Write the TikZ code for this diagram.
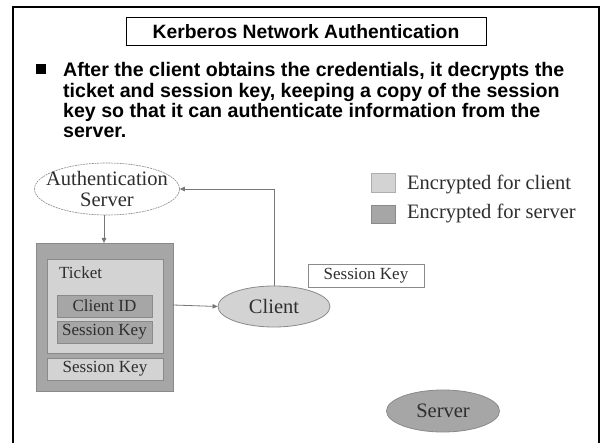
\documentclass[tikz,border=0pt]{standalone}
\usepackage{fontspec}
\setmainfont{Liberation Serif}
\newfontfamily\hv{Liberation Sans}
\usetikzlibrary{arrows.meta,shapes.geometric}
\definecolor{lightfill}{HTML}{D3D3D3}
\definecolor{darkfill}{HTML}{A6A6A6}
\definecolor{edgegray}{HTML}{8A8A8A}
\definecolor{linegray}{HTML}{777777}
\definecolor{textgray}{HTML}{2E2E2E}
\begin{document}
\begin{tikzpicture}[x=1pt,y=-1pt,
  boxlabel/.style={inner sep=0pt,text=textgray,font=\fontsize{17}{17}\selectfont},
  bigtext/.style={text=textgray,font=\fontsize{20.5}{20.5}\selectfont},
  bulletline/.style={anchor=base west,inner sep=0pt,font=\hv\bfseries\fontsize{19.6}{20}\selectfont},
  conn/.style={draw=linegray,line width=0.8pt},
  tip/.style={-{Triangle[length=5pt,width=4.5pt]}}]
\useasboundingbox (0,0) rectangle (605,443);
\fill[white] (0,0) rectangle (605,443);

% slide frame, open at the bottom
\draw[line width=2.4pt,line cap=butt] (13,443) -- (13,7.2) -- (599,7.2) -- (599,443);

% title
\node[draw,line width=1pt,minimum width=360pt,minimum height=28pt,inner sep=0pt,
      font=\hv\bfseries\fontsize{19.3}{19.3}\selectfont] (title) at (306,32) {Kerberos Network Authentication};

% bullet point
\fill (36,64) rectangle (46,74);
\node[bulletline] (l1) at (63,77) {After the client obtains the credentials, it decrypts the};
\node[bulletline] (l2) at (63,97.5) {ticket and session key, keeping a copy of the session};
\node[bulletline] (l3) at (63,117.5) {key so that it can authenticate information from the};
\node[bulletline] (l4) at (63,137.5) {server.};

% authentication server
\node[ellipse,draw=edgegray,dashed,dash pattern=on 2pt off 0.8pt,line width=0.6pt,fill=white,
      minimum width=145pt,minimum height=52pt,inner sep=0pt] (as) at (107,189) {};
\node[bigtext,align=center,inner sep=0pt] (astext) at (107,189)
  {\fontsize{20.5}{21}\selectfont Authentication\\Server};

% credentials package
\filldraw[fill=darkfill,draw=edgegray,line width=0.8pt] (36,243) rectangle (173,391);
\coordinate (pkgtop) at (104,243);
\coordinate (pkgright) at (173,305);
\filldraw[fill=lightfill,draw=edgegray,line width=0.8pt] (47,259) rectangle (163,353);
\node[boxlabel,anchor=west] (ticket) at (59,273) {Ticket};
\node[draw=edgegray,line width=0.8pt,fill=darkfill,minimum width=95pt,minimum height=22pt,
      boxlabel] (cid) at (104.5,306) {Client ID};
\node[draw=edgegray,line width=0.8pt,fill=darkfill,minimum width=95pt,minimum height=22pt,
      boxlabel] (tsk) at (104.5,332) {Session Key};
\node[draw=edgegray,line width=0.8pt,fill=lightfill,minimum width=116pt,minimum height=22pt,
      boxlabel] (psk) at (105,369) {Session Key};

% session key kept by the client
\node[draw=edgegray,line width=0.8pt,fill=white,minimum width=116pt,minimum height=23pt,
      boxlabel] (csk) at (366,275.5) {Session Key};

% client and server
\node[ellipse,draw=edgegray,line width=0.8pt,fill=lightfill,minimum width=112pt,minimum height=41pt,
      inner sep=0pt,bigtext] (client) at (274,306.5) {Client};
\node[ellipse,draw=edgegray,line width=0.8pt,fill=darkfill,minimum width=113pt,minimum height=42pt,
      inner sep=0pt,bigtext] (server) at (443,411) {Server};

% connectors
\draw[conn,tip] (pkgtop |- as.south) -- (pkgtop);
\draw[conn,tip] (pkgright) -- (client.west);
\draw[conn,tip] (client.north) |- (as.east);

% legend
\node[draw=edgegray!70,line width=0.8pt,fill=lightfill,minimum width=24pt,minimum height=19pt,inner sep=0pt] (lgc) at (383,182.5) {};
\node[draw=edgegray,line width=0.8pt,fill=darkfill,minimum width=24pt,minimum height=18pt,inner sep=0pt] (lgs) at (383,214) {};
\node[bigtext,anchor=west,inner sep=0pt] (lgct) at (407,184) {Encrypted for client};
\node[bigtext,anchor=west,inner sep=0pt] (lgst) at (407,213) {Encrypted for server};
\end{tikzpicture}
\end{document}
